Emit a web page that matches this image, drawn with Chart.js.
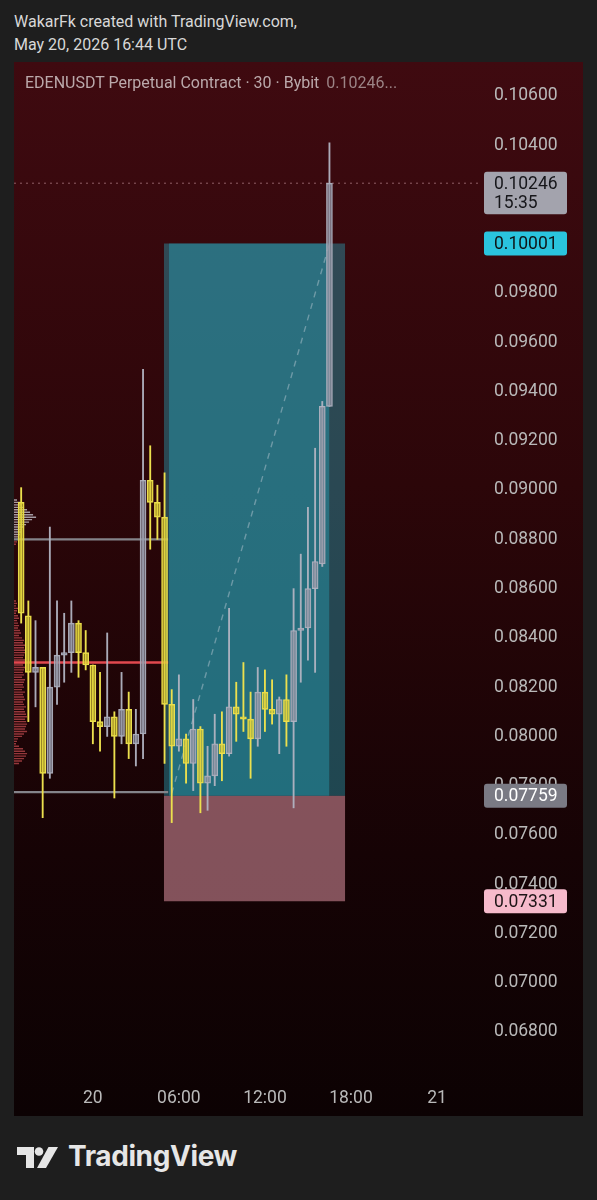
<!DOCTYPE html>
<html>
<head>
<meta charset="utf-8">
<script src="https://cdn.jsdelivr.net/npm/chart.js@4.4.1/dist/chart.umd.min.js"></script>
<style>
  html, body { margin: 0; padding: 0; width: 597px; height: 1200px; overflow: hidden; background: #1e1e1e; font-family: Roboto, 'Noto Sans', sans-serif; }
  .hdr { position: absolute; left: 14px; color: #d8d8d8; font-size: 16px; white-space: nowrap; }
  #panel { position: absolute; left: 14px; top: 62px; width: 569px; height: 1054px;
    background: linear-gradient(to bottom, #3f0a10 0%, #2c0609 40%, #160305 75%, #0c0203 100%); }
  #wrap { position: absolute; left: 0; top: 0; width: 569px; height: 1054px; }
  #title { position: absolute; left: 11px; top: 11px; font-size: 16px; color: #bba9ab; white-space: nowrap; }
  #title span { color: #9c8486; margin-left: 7px; }
  #logo { position: absolute; left: 16px; top: 1146px; }
  #logoText { position: absolute; left: 68px; top: 1139px; font-family: Inter, Roboto, sans-serif; font-weight: 700; font-size: 28px; color: #e6e6e6; letter-spacing: -0.4px; }
</style>
</head>
<body>
<div class="hdr" style="top:12px">WakarFk created with TradingView.com,</div>
<div class="hdr" style="top:35px">May 20, 2026 16:44 UTC</div>
<div id="panel">
  <div id="wrap"><canvas id="chart"></canvas></div>
  <div id="title">EDENUSDT Perpetual Contract · 30 · Bybit<span>0.10246...</span></div>
</div>
<svg id="logo" width="46" height="24" viewBox="0 0 46 24">
  <path d="M1 1 H18 V22 H10 V9 H1 Z" fill="#e6e6e6"/>
  <circle cx="23" cy="5.5" r="4.3" fill="#e6e6e6"/>
  <polygon points="32.5,1 42,1 30,22 21,22" fill="#e6e6e6"/>
</svg>
<div id="logoText">TradingView</div>
<script>
// half-hour slots counted from 20 May 00:00 UTC
const candleSlots = [-10, -9, -8, -7, -6, -5, -4, -3, -2, -1, 0, 1, 2, 3, 4, 5, 6, 7, 8, 9, 10,
  11, 12, 13, 14, 15, 16, 17, 18, 19, 20, 21, 22, 23, 24, 25, 26, 27, 28, 29, 30, 31, 32, 33];
const opens = [0.0895, 0.0849, 0.0826, 0.0828, 0.0785, 0.0820, 0.0833, 0.0834, 0.0846, 0.0834,
  0.0829, 0.0806, 0.0804, 0.0808, 0.0800, 0.0811, 0.0797, 0.0801, 0.0904, 0.0895, 0.0889,
  0.0813, 0.0796, 0.0799, 0.0789, 0.0803, 0.0781, 0.0784, 0.0797, 0.0793, 0.0812, 0.0808,
  0.0807, 0.0799, 0.0818, 0.0811, 0.0809, 0.0815, 0.0806, 0.0843, 0.0844, 0.0860, 0.0870, 0.0934];
const highs = [0.0901, 0.0855, 0.0847, 0.0828, 0.0885, 0.0855, 0.0850, 0.0855, 0.0847, 0.0843,
  0.0829, 0.0826, 0.0842, 0.0810, 0.0826, 0.0818, 0.0811, 0.0949, 0.0918, 0.0902, 0.0907,
  0.0819, 0.0825, 0.0801, 0.0815, 0.0804, 0.0796, 0.0809, 0.0810, 0.0852, 0.0822, 0.0830,
  0.0818, 0.0828, 0.0827, 0.0823, 0.0816, 0.0825, 0.0860, 0.0874, 0.0893, 0.0917, 0.0936, 0.1041];
const lows = [0.0846, 0.0806, 0.0812, 0.0767, 0.0783, 0.0813, 0.0822, 0.0826, 0.0824, 0.0827,
  0.0797, 0.0794, 0.0800, 0.0775, 0.0797, 0.0791, 0.0788, 0.0791, 0.0876, 0.0880, 0.0789,
  0.0765, 0.0794, 0.0781, 0.0778, 0.0769, 0.0770, 0.0780, 0.0782, 0.0792, 0.0798, 0.0802,
  0.0783, 0.0796, 0.0802, 0.0805, 0.0793, 0.0796, 0.0771, 0.0822, 0.0831, 0.0826, 0.0869, 0.0934];
const closes = [0.0850, 0.0826, 0.0828, 0.0785, 0.0820, 0.0833, 0.0834, 0.0846, 0.0834, 0.0829,
  0.0806, 0.0804, 0.0808, 0.0800, 0.0811, 0.0797, 0.0801, 0.0904, 0.0895, 0.0889, 0.0813,
  0.0796, 0.0799, 0.0789, 0.0803, 0.0781, 0.0784, 0.0797, 0.0793, 0.0812, 0.0809, 0.0807,
  0.0799, 0.0818, 0.0811, 0.0809, 0.0815, 0.0806, 0.0843, 0.0844, 0.0860, 0.0871, 0.0934, 0.10246];

const yTickValues = [0.068, 0.070, 0.072, 0.074, 0.076, 0.078, 0.080, 0.082, 0.084, 0.086,
  0.088, 0.090, 0.092, 0.094, 0.096, 0.098, 0.100, 0.102, 0.104, 0.106];
const timeTickSlots = [0, 12, 24, 36, 48];
const timeTickLabels = ['20', '06:00', '12:00', '18:00', '21'];

// long position tool
const entryPrice = 0.07759;
const targetPrice = 0.10001;
const stopPrice = 0.07331;
const positionSlots = [9.9, 35.2];
const filledSlots = [10.6, 33];
const lastPrice = 0.10246;
const countdown = '15:35';

// horizontal levels on the left
const grayLevels = [0.0880, 0.07774];
const redLevel = 0.0830;
const levelSlots = [-11, 10.5];

// volume profile rows (price, relative volume)
const profileUpPrices = [0.0896, 0.0895, 0.0894, 0.0893, 0.0892, 0.0891, 0.0890, 0.0889, 0.0888,
  0.0887, 0.0886, 0.0885, 0.0884, 0.0883, 0.0882, 0.0881, 0.0880];
const profileUpVolumes = [3, 6, 8, 10, 13, 16, 19, 22, 18, 15, 12, 10, 8, 7, 6, 5, 4];
const profileDownPrices = [0.0879, 0.0878,
  0.0855, 0.0854, 0.0853, 0.0852, 0.0851, 0.0850, 0.0849, 0.0848, 0.0847, 0.0846,
  0.0845, 0.0844, 0.0843, 0.0842, 0.0841, 0.0840,
  0.0839, 0.0838, 0.0837, 0.0836, 0.0835, 0.0834, 0.0833, 0.0832, 0.0831, 0.0830, 0.0829, 0.0828,
  0.0827, 0.0826, 0.0825, 0.0824, 0.0823, 0.0822, 0.0821, 0.0820, 0.0819, 0.0818, 0.0817, 0.0816,
  0.0815, 0.0814, 0.0813, 0.0812, 0.0811, 0.0810,
  0.0809, 0.0808, 0.0807, 0.0806, 0.0805, 0.0804, 0.0803, 0.0802, 0.0801, 0.0800,
  0.0799, 0.0798, 0.0797, 0.0796,
  0.0795, 0.0794, 0.0793, 0.0792, 0.0791, 0.0790, 0.0789];
const profileDownVolumes = [3, 2,
  2, 3, 2, 4, 3, 2, 4, 5, 3, 4,
  5, 4, 6, 7, 5, 8,
  10, 9, 11, 10, 12, 11, 10, 9, 11, 10, 9, 12,
  10, 9, 10, 8, 11, 10, 9, 10, 8, 11, 9, 10, 11, 9, 10, 12, 10, 11,
  12, 13, 11, 12, 13, 12, 11, 13, 10, 8,
  4, 3, 2, 5,
  9, 11, 13, 12, 10, 8, 5];

const X_MIN = -11, X_MAX = 54;
const PROFILE_UNIT = 0.14; // slots per volume unit

const UP_FILL = 'rgba(140, 143, 160, 0.62)', UP_LINE = 'rgba(178, 180, 194, 0.95)';
const DN_FILL = 'rgba(215, 200, 50, 0.55)', DN_LINE = 'rgba(236, 224, 78, 1)';

const isUp = i => closes[i] >= opens[i];

function profileSegments(prices, volumes) {
  const pts = [];
  prices.forEach((p, i) => {
    pts.push({ x: X_MIN, y: p }, { x: X_MIN + volumes[i] * PROFILE_UNIT, y: p }, { x: X_MIN, y: null });
  });
  return pts;
}

function hLine(y, slots) { return slots.map(x => ({ x, y })); }

const priceTagPlugin = {
  id: 'priceTags',
  afterDraw(chart) {
    const { ctx, chartArea, scales: { y } } = chart;
    const left = chartArea.right + 4, w = 83, r = 3;
    const tags = [
      { price: targetPrice, bg: '#2ac4de', fg: '#0f1416' },
      { price: entryPrice, bg: '#7a7a84', fg: '#ffffff' },
      { price: stopPrice, bg: '#f6bacb', fg: '#1d1416' },
    ];
    ctx.save();
    ctx.font = '17.5px Roboto, sans-serif';
    ctx.textBaseline = 'middle';
    ctx.textAlign = 'left';
    // last price tag with countdown
    const ly = y.getPixelForValue(lastPrice);
    ctx.fillStyle = '#a3a3ad';
    ctx.beginPath(); ctx.roundRect(left, ly - 11.5, w, 42.5, r); ctx.fill();
    ctx.fillStyle = '#16161a';
    ctx.fillText(lastPrice.toFixed(5), left + 10, ly + 1);
    ctx.fillText(countdown, left + 10, ly + 20);
    tags.forEach(t => {
      const cy = y.getPixelForValue(t.price);
      ctx.fillStyle = t.bg;
      ctx.beginPath(); ctx.roundRect(left, cy - 12, w, 24, r); ctx.fill();
      ctx.fillStyle = t.fg;
      ctx.fillText(t.price.toFixed(5), left + 10, cy + 1);
    });
    ctx.restore();
  }
};

const boxStyle = { type: 'line', pointRadius: 0, borderWidth: 0 };

new Chart(document.getElementById('chart'), {
  type: 'bar',
  data: {
    datasets: [
      // candle bodies
      {
        type: 'bar', order: 1, grouped: false,
        data: candleSlots.map((s, i) => ({ x: s, y: [opens[i], closes[i]] })),
        barThickness: 6, minBarLength: 2, borderWidth: 1, borderSkipped: false,
        backgroundColor: c => isUp(c.dataIndex) ? UP_FILL : DN_FILL,
        borderColor: c => isUp(c.dataIndex) ? UP_LINE : DN_LINE,
      },
      // wicks
      {
        type: 'bar', order: 2, grouped: false,
        data: candleSlots.map((s, i) => ({ x: s, y: [lows[i], highs[i]] })),
        barThickness: 1.2, borderWidth: 0,
        backgroundColor: c => isUp(c.dataIndex) ? UP_LINE : DN_LINE,
      },
      // levels
      { type: 'line', order: 3, data: hLine(grayLevels[0], levelSlots), borderColor: '#84848a', borderWidth: 2.2, pointRadius: 0 },
      { type: 'line', order: 3, data: hLine(grayLevels[1], levelSlots), borderColor: '#84848a', borderWidth: 2.2, pointRadius: 0 },
      { type: 'line', order: 3, data: hLine(redLevel, levelSlots), borderColor: '#e2484f', borderWidth: 2.4, pointRadius: 0 },
      // last price dotted line
      { type: 'line', order: 3, data: hLine(lastPrice, [X_MIN, X_MAX]), borderColor: 'rgba(175,125,135,0.75)', borderWidth: 1, borderDash: [2, 4], pointRadius: 0 },
      // entry -> target dashed path
      { type: 'line', order: 4, data: [{ x: filledSlots[0] + 0.4, y: entryPrice + 0.0001 }, { x: filledSlots[1], y: targetPrice }],
        borderColor: 'rgba(165,190,200,0.55)', borderWidth: 1.4, borderDash: [6, 6], pointRadius: 0 },
      // volume profile
      { type: 'line', order: 5, data: profileSegments(profileUpPrices, profileUpVolumes), borderColor: 'rgba(205,205,215,0.75)', borderWidth: 1.4, pointRadius: 0, spanGaps: false },
      { type: 'line', order: 5, data: profileSegments(profileDownPrices, profileDownVolumes), borderColor: 'rgba(200,78,82,0.7)', borderWidth: 1.4, pointRadius: 0, spanGaps: false },
      // position boxes
      { ...boxStyle, order: 6, data: hLine(targetPrice, filledSlots), fill: { value: entryPrice }, backgroundColor: 'rgba(40,165,185,0.42)' },
      { ...boxStyle, order: 7, data: hLine(targetPrice, positionSlots), fill: { value: entryPrice }, backgroundColor: 'rgba(40,165,185,0.42)' },
      { ...boxStyle, order: 7, data: hLine(entryPrice, positionSlots), fill: { value: stopPrice }, backgroundColor: 'rgba(205,135,148,0.6)' },
    ]
  },
  options: {
    responsive: true,
    maintainAspectRatio: false,
    animation: false,
    layout: { padding: 0 },
    plugins: { legend: { display: false }, tooltip: { enabled: false }, title: { display: false } },
    scales: {
      x: {
        type: 'linear', min: X_MIN, max: X_MAX, offset: false,
        grid: { display: false, drawTicks: false }, border: { display: false },
        afterBuildTicks: s => { s.ticks = timeTickSlots.map(v => ({ value: v })); },
        afterFit: s => { s.height = 36; s.paddingLeft = 0; s.paddingRight = 0; },
        ticks: {
          color: '#b9b9b9', font: { family: 'Roboto', size: 17.5 }, padding: 8, maxRotation: 0, autoSkip: false,
          callback: v => timeTickLabels[timeTickSlots.indexOf(v)]
        }
      },
      y: {
        type: 'linear', position: 'right', min: 0.0660513, max: 0.107380,
        grid: { display: false, drawTicks: false }, border: { display: false },
        afterBuildTicks: s => { s.ticks = yTickValues.map(v => ({ value: v })); },
        afterFit: s => { s.width = 103; s.paddingTop = 0; s.paddingBottom = 0; },
        ticks: {
          color: '#b9b9b9', font: { family: 'Roboto', size: 17.5 }, padding: 14, autoSkip: false,
          callback: v => v.toFixed(5)
        }
      }
    }
  },
  plugins: [priceTagPlugin]
});
</script>
</body>
</html>
